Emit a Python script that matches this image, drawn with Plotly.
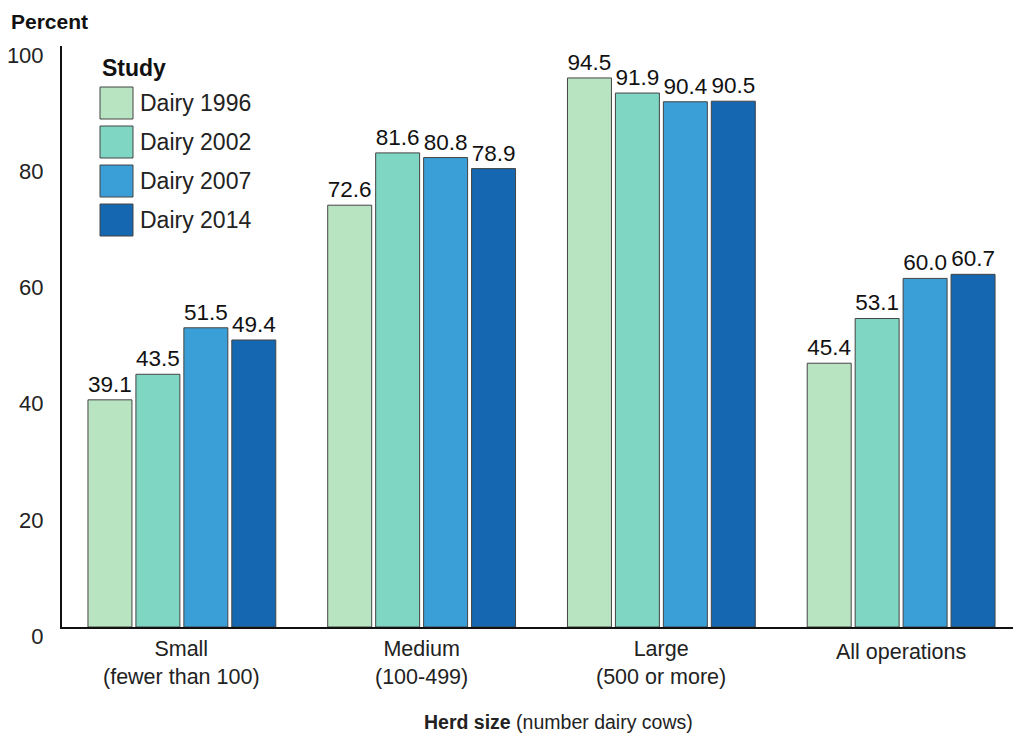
import plotly.graph_objects as go

# herd size groups (second line shown under each group)
categories = ["Small", "Medium", "Large", "All operations"]
subtitles = ["(fewer than 100)", "(100-499)", "(500 or more)", ""]

studies = ["Dairy 1996", "Dairy 2002", "Dairy 2007", "Dairy 2014"]
colors = ["#b9e4c1", "#7fd6c3", "#3a9fd6", "#1467b0"]

dairy_1996 = [39.1, 72.6, 94.5, 45.4]
dairy_2002 = [43.5, 81.6, 91.9, 53.1]
dairy_2007 = [51.5, 80.8, 90.4, 60.0]
dairy_2014 = [49.4, 78.9, 90.5, 60.7]

series = [dairy_1996, dairy_2002, dairy_2007, dairy_2014]

FONT = "Liberation Sans, Arial, sans-serif"

# the page body has an 8px margin, so the figure is shrunk by that much
OFF = 8
W, H = 1021 - OFF, 738 - OFF
ml, mr, mt, mb = 62 - OFF, 0, 46 - OFF, 738 - 627
pw, ph = W - ml - mr, H - mt - mb


def px_x(x):
    # screen pixel -> paper coordinate
    return (x - OFF - ml) / pw


def px_y(y):
    return (H - mb - (y - OFF)) / ph


fig = go.Figure()
for name, vals, col in zip(studies, series, colors):
    fig.add_trace(go.Bar(
        x=categories, y=vals, name=name,
        marker=dict(color=col, line=dict(color="#444444", width=1)),
        text=[f"{v:.1f}" for v in vals], textposition="outside",
        textfont=dict(size=22.5, color="#111111", family=FONT),
        cliponaxis=False, showlegend=False,
    ))

# category labels under each group
for cat, sub in zip(categories, subtitles):
    label = f"{cat}<br>{sub}" if sub else cat
    ypos = 663 if sub else 652
    fig.add_annotation(x=cat, xref="x", y=px_y(ypos), yref="paper", text=label,
                       showarrow=False, yanchor="middle", borderpad=0,
                       font=dict(size=21.5, color="#222222"))

# legend drawn by hand so the swatches are big like the original
fig.add_annotation(x=px_x(100), y=px_y(68), xref="paper", yref="paper",
                   text="<b>Study</b>", showarrow=False, xanchor="left",
                   yanchor="middle", font=dict(size=23, color="#111111"))
for i, (name, col) in enumerate(zip(studies, colors)):
    top = 87 + i * 39
    fig.add_shape(type="rect", xref="paper", yref="paper",
                  x0=px_x(100), x1=px_x(133), y0=px_y(top), y1=px_y(top + 32),
                  fillcolor=col, line=dict(color="#444444", width=1))
    fig.add_annotation(x=px_x(138), y=px_y(top + 16), xref="paper", yref="paper",
                       text=name, showarrow=False, xanchor="left", yanchor="middle",
                       font=dict(size=23, color="#222222"))

# axis titles
fig.add_annotation(x=px_x(10), y=px_y(21), xref="paper", yref="paper",
                   text="<b>Percent</b>", showarrow=False, xanchor="left",
                   yanchor="middle", borderpad=0,
                   font=dict(size=21, color="#111111"))
fig.add_annotation(x=px_x(558), y=px_y(722), xref="paper", yref="paper",
                   text="<b>Herd size</b> (number dairy cows)", showarrow=False,
                   xanchor="center", yanchor="middle",
                   font=dict(size=19.5, color="#222222"))

fig.update_layout(
    width=W, height=H,
    margin=dict(l=ml, r=mr, t=mt, b=mb, autoexpand=False),
    plot_bgcolor="white", paper_bgcolor="white",
    font=dict(family=FONT, size=21, color="#222222"),
    barmode="group", bargap=0.2, bargroupgap=0.083,
)
fig.update_xaxes(showline=True, linecolor="#111111", linewidth=2,
                 ticks="", showgrid=False, showticklabels=False)
fig.update_yaxes(range=[0, 100], dtick=20, showline=True, linecolor="#111111",
                 linewidth=2, ticks="", showgrid=False, zeroline=False,
                 ticklabelstandoff=12, ticklabelshift=9,
                 tickfont=dict(size=22))

fig.write_html("out.html")
